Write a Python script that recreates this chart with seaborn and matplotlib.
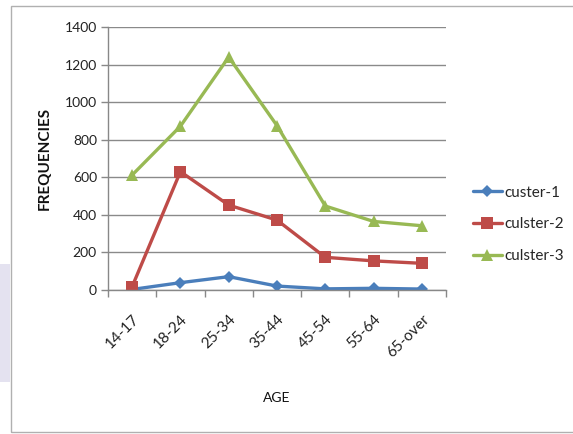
import matplotlib
matplotlib.use("Agg")
import matplotlib.pyplot as plt
import seaborn as sns
import pandas as pd
from matplotlib.patches import Rectangle
from matplotlib.lines import Line2D

ages = ["14-17", "18-24", "25-34", "35-44", "45-54", "55-64", "65-over"]
custer_1 = [3, 39, 71, 21, 6, 9, 5]
culster_2 = [18, 630, 452, 372, 174, 155, 142]
culster_3 = [612, 872, 1240, 875, 447, 365, 342]
series_names = ["custer-1", "culster-2", "culster-3"]
yticks = [0, 200, 400, 600, 800, 1000, 1200, 1400]

rows = []
for name, vals in zip(series_names, [custer_1, culster_2, culster_3]):
    for a, v in zip(ages, vals):
        rows.append({"AGE": a, "FREQUENCIES": v, "series": name})
df = pd.DataFrame(rows)

sns.set_theme(style="white")
plt.rcParams["font.family"] = ["Lato", "DejaVu Sans"]

fig = plt.figure(figsize=(5.73, 4.34), dpi=100)
fig.patch.set_facecolor("white")

# faint lavender watermark on the left edge
fig.patches.append(Rectangle((0, 1 - 382 / 434), 10 / 573, 118 / 434,
                             transform=fig.transFigure, facecolor="#e4e2f0",
                             edgecolor="none", zorder=0))
# chart border
fig.patches.append(Rectangle((11 / 573, 1 - 432 / 434), 570 / 573, 426 / 434,
                             transform=fig.transFigure, facecolor="none",
                             edgecolor="#b0b0b0", linewidth=1.0, zorder=1))

ax = fig.add_axes([108 / 573, 1 - 290 / 434, 338 / 573, 263 / 434])

palette = {"custer-1": "#4A7EBB", "culster-2": "#BE4B48", "culster-3": "#98B954"}
markers = {"custer-1": "D", "culster-2": "s", "culster-3": "^"}
sizes_m = {"custer-1": 6.5, "culster-2": 8, "culster-3": 8.5}

sns.lineplot(data=df, x="AGE", y="FREQUENCIES", hue="series", style="series",
             markers=markers, dashes=False, palette=palette, linewidth=2.4,
             markersize=8, markeredgewidth=0, sort=False, ax=ax, legend=False)

for line, name in zip(ax.get_lines(), series_names):
    line.set_markersize(sizes_m[name])

ax.set_xlim(-0.5, len(ages) - 0.5)
ax.set_ylim(0, 1400)
ax.set_yticks(yticks)
ax.set_yticklabels([str(t) for t in yticks], fontsize=10, color="#222222")
ax.set_xticks(range(len(ages)))
ax.set_xticklabels(ages, rotation=45, ha="right", rotation_mode="anchor",
                   fontsize=11, color="#222222")
ax.set_xticks([i - 0.5 for i in range(len(ages) + 1)], minor=True)
ax.tick_params(axis="x", which="major", length=0, pad=16)
ax.tick_params(axis="x", which="minor", length=5, direction="out",
               color="#888888", width=1, bottom=True)
ax.tick_params(axis="y", length=5, direction="out", color="#888888",
               width=1, left=True, pad=3)

ax.yaxis.grid(True, color="#8a8a8a", linewidth=1)
ax.xaxis.grid(False)
ax.set_axisbelow(True)
for s in ["top", "right"]:
    ax.spines[s].set_visible(False)
for s in ["left", "bottom"]:
    ax.spines[s].set_color("#888888")
    ax.spines[s].set_linewidth(1)

ax.set_ylabel("FREQUENCIES", fontsize=11, fontweight="bold", color="#111111",
              labelpad=9)
ax.set_xlabel("AGE", fontsize=10, color="#111111", labelpad=23)

handles = [Line2D([0], [0], color=palette[n], marker=markers[n], linewidth=2.4,
                  markersize=sizes_m[n], markeredgewidth=0) for n in series_names]
fig.legend(handles, series_names, loc="upper left",
           bbox_to_anchor=(459 / 573, 1 - 172 / 434), frameon=False,
           fontsize=11, labelspacing=1.15, handlelength=1.9, handletextpad=0.15)

fig.savefig("out.png", dpi=100)
